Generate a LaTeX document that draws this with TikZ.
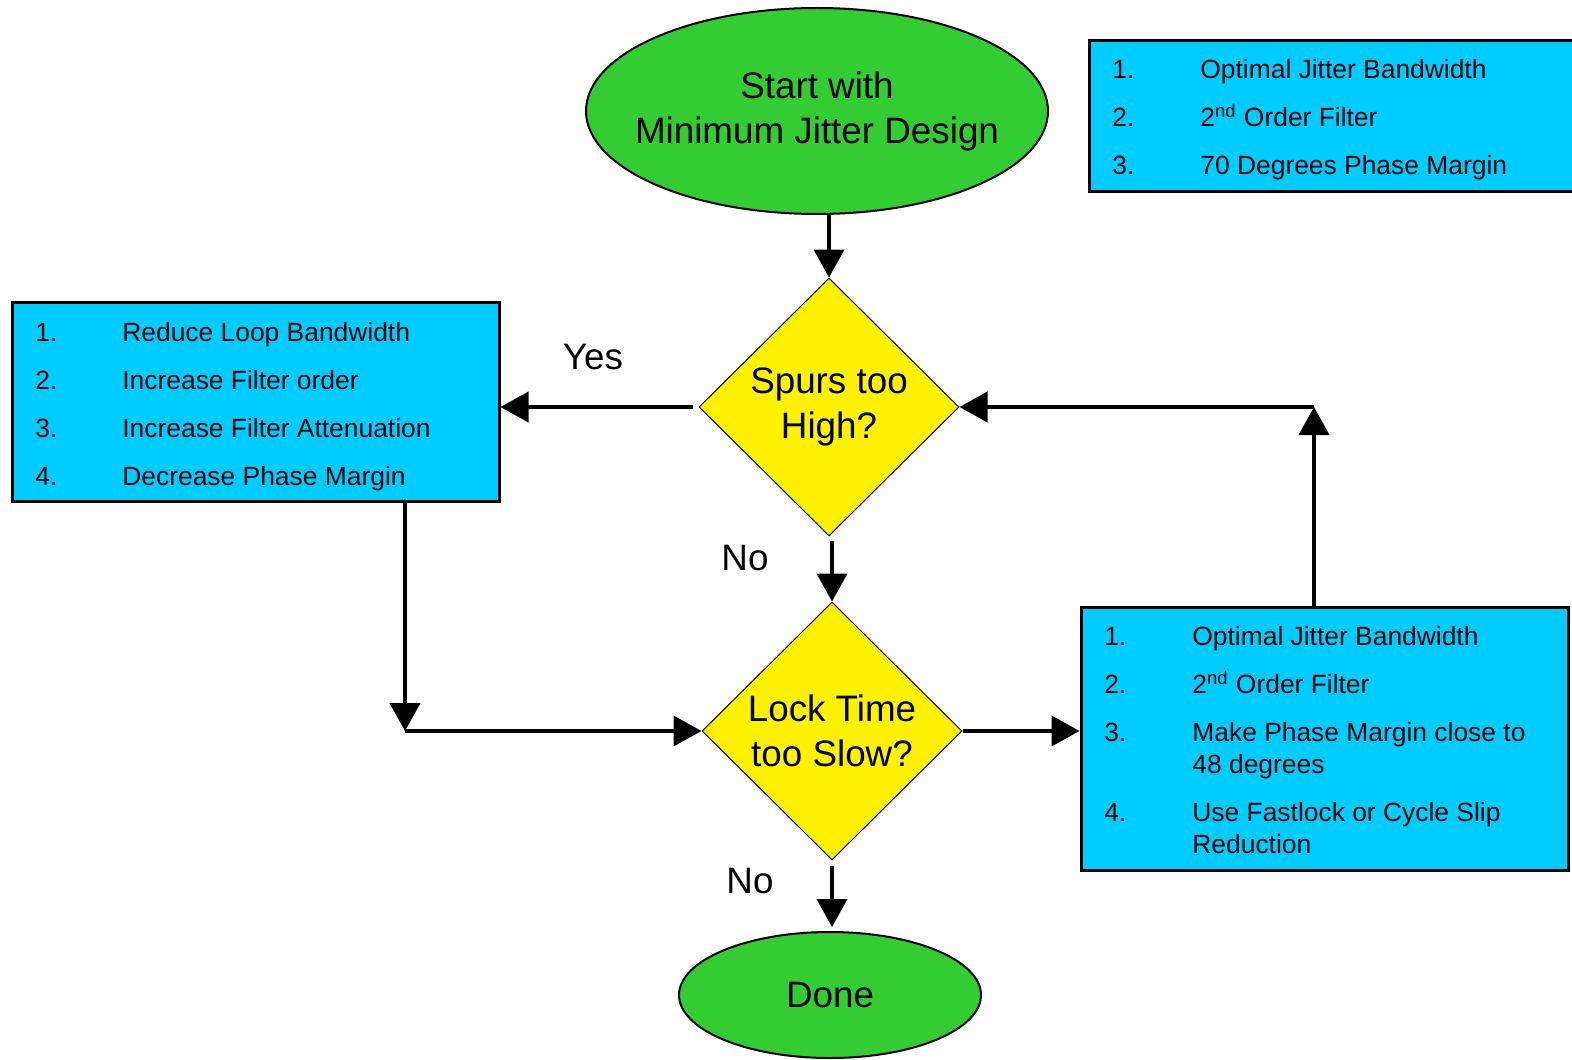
\documentclass[tikz,border=0pt]{standalone}
\usepackage{fontspec}
\setmainfont{Liberation Sans}
\usetikzlibrary{shapes.geometric,arrows.meta}
\definecolor{termgreen}{RGB}{51,204,51}
\definecolor{listcyan}{RGB}{0,204,255}

\begin{document}
\begin{tikzpicture}[x=0.5pt,y=-0.5pt,
    terminal/.style={ellipse,draw,line width=1pt,fill=termgreen,align=center,inner sep=0pt},
    decision/.style={diamond,draw,line width=0.5pt,fill=yellow,align=center,inner sep=0pt,minimum width=130pt,minimum height=129pt},
    listbox/.style={rectangle,draw,line width=1.5pt,fill=listcyan,inner sep=0pt},
    item/.style={anchor=base west,inner sep=0pt,font=\fontsize{13.2}{16}\selectfont},
    big/.style={font=\fontsize{18.4}{22.5}\selectfont},
    flow/.style={-{Triangle[length=14pt,width=15pt]},line width=2pt}]
    \useasboundingbox(0,0)rectangle(1572,1059);
    % flow chart
    \node[terminal,big,inner xsep=-12pt,minimum width=231pt,minimum height=103pt](start)at(817,111){Start with\\Minimum Jitter Design};
    \node[decision,big](spurs)at(829,407){Spurs too\\High?};
    \node[decision,big](lock)at(832,731){Lock Time\\too Slow?};
    \node[terminal,big,minimum width=151pt,minimum height=63pt](done)at(830,995){Done};
    % boxes
    \node[listbox,minimum width=245.5pt,minimum height=75.5pt](jitter)at(1335,116){};
    \node[listbox,minimum width=243.5pt,minimum height=99.5pt](reduce)at(255.5,402){};
    \node[listbox,minimum width=243.5pt,minimum height=131.5pt](options)at(1324.5,738.5){};
    \node[item](j1)at(1112,78.5){1.};  \node[item](jt1)at(1200,78.5){Optimal Jitter Bandwidth};
    \node[item](j2)at(1112,126.5){2.}; \node[item](jt2)at(1200,126.5){2\textsuperscript{nd} Order Filter};
    \node[item](j3)at(1112,174.5){3.}; \node[item](jt3)at(1200,174.5){70 Degrees Phase Margin};
    \node[item](r1)at(35,341){1.};  \node[item](rt1)at(122,341){Reduce Loop Bandwidth};
    \node[item](r2)at(35,389){2.};  \node[item](rt2)at(122,389){Increase Filter order};
    \node[item](r3)at(35,437){3.};  \node[item](rt3)at(122,437){Increase Filter Attenuation};
    \node[item](r4)at(35,485){4.};  \node[item](rt4)at(122,485){Decrease Phase Margin};
    \node[item](o1)at(1104,645){1.}; \node[item](ot1)at(1192,645){Optimal Jitter Bandwidth};
    \node[item](o2)at(1104,693){2.}; \node[item](ot2)at(1192,693){2\textsuperscript{nd} Order Filter};
    \node[item](o3)at(1104,741){3.}; \node[item](ot3)at(1192,741){Make Phase Margin close to};
    \node[item](ot3b)at(1192,773){48 degrees};
    \node[item](o4)at(1104,821){4.}; \node[item](ot4)at(1192,821){Use Fastlock or Cycle Slip};
    \node[item](ot4b)at(1192,853){Reduction};
    % labels
    \node[big](yes)at(593,357){Yes};
    \node[big](no1)at(745,558){No};
    \node[big](no2)at(750,881){No};
    % connectors
    \coordinate(turn)at(405,731);
    \coordinate(back)at(1314,407);
    \draw[flow](start.south -| spurs.north)--(spurs.north);
    \draw[flow]([xshift=-3pt]spurs.west)--(spurs.west -| reduce.east);
    \draw[flow]([yshift=-2pt]spurs.south -| lock.north)--(lock.north);
    \draw[flow](reduce.south -| turn)--(turn);
    \draw[flow](turn)--(lock.west);
    \draw[flow](lock.east)--(lock.east -| options.west);
    \draw[flow](options.north -| back)--(back);
    \draw[flow](back)--(spurs.east);
    \draw[flow]([yshift=-2.5pt]lock.south)--([yshift=2pt]lock.south |- done.north);
\end{tikzpicture}
\end{document}
